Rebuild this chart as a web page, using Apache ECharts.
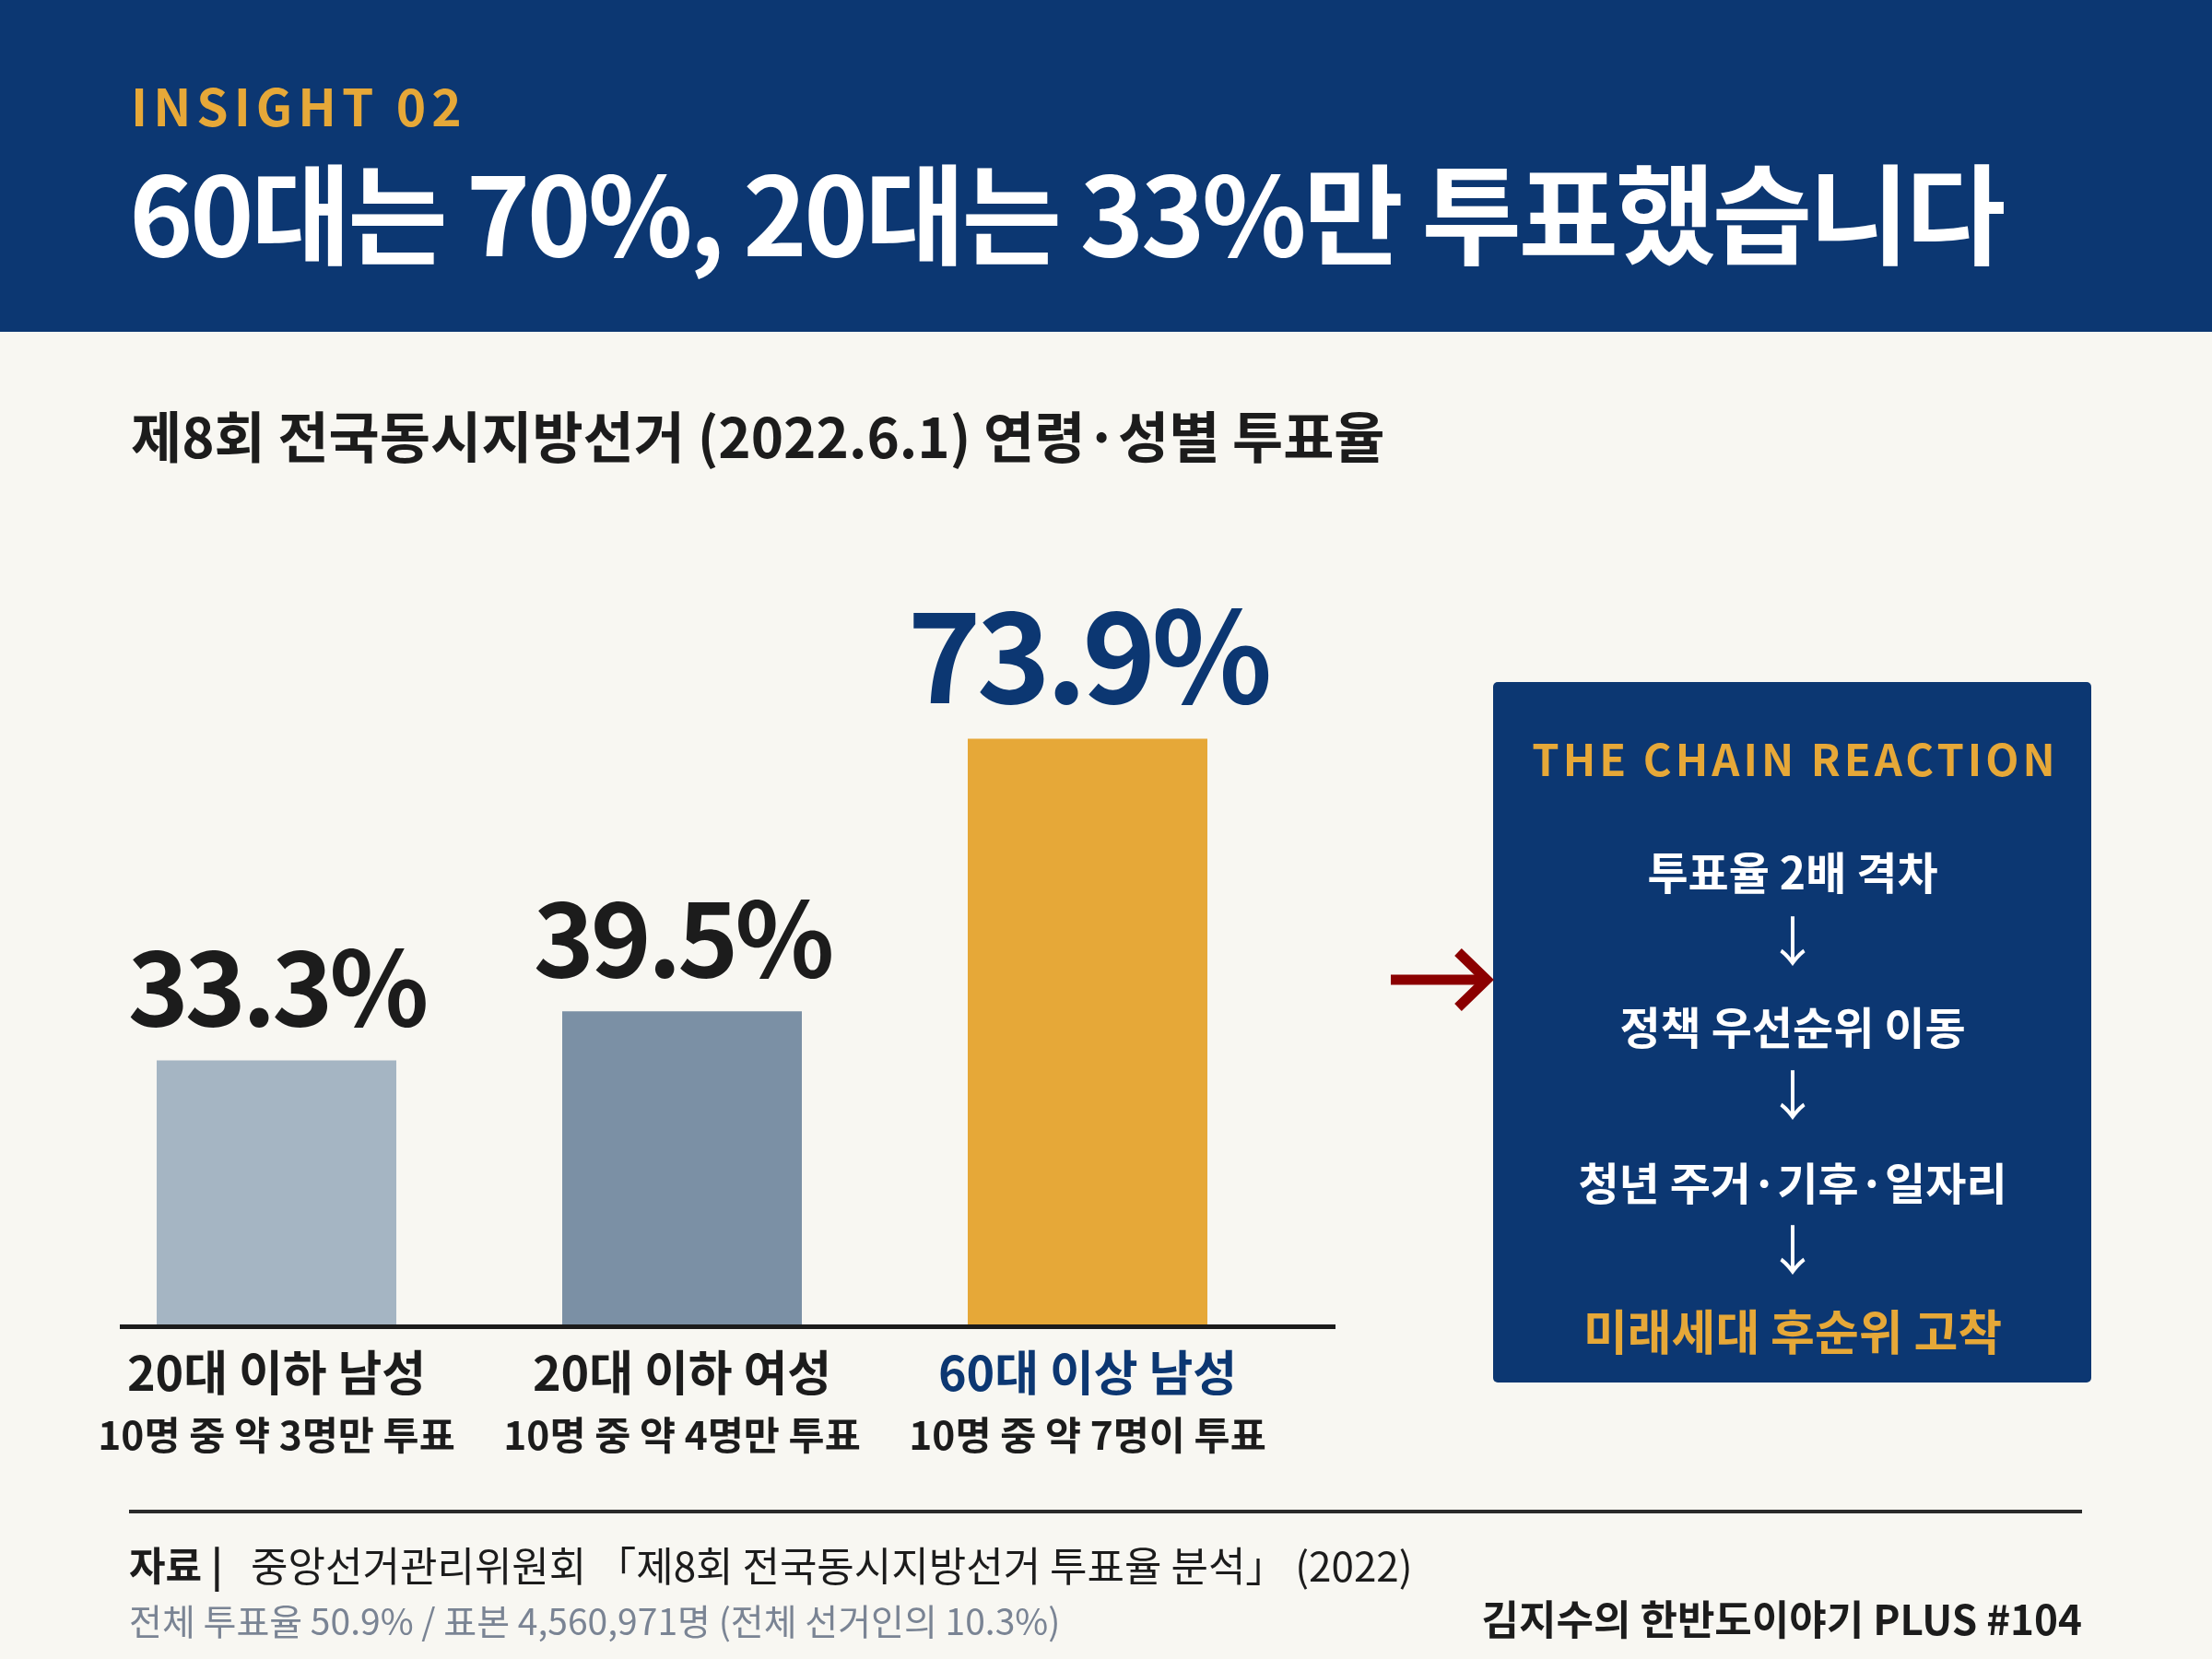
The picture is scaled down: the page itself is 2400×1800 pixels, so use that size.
<!DOCTYPE html>
<html><head><meta charset="utf-8">
<script src="https://cdn.jsdelivr.net/npm/echarts@6/dist/echarts.min.js"></script>
<style>html,body{margin:0;padding:0;background:#F8F7F2;}#c{width:2400px;height:1800px;}</style>
</head><body><div id="c"></div>
<script>
// ---- data ----
const categories = ['20대 이하 남성', '20대 이하 여성', '60대 이상 남성'];
const subLabels = ['10명 중 약 3명만 투표', '10명 중 약 4명만 투표', '10명 중 약 7명이 투표'];
const turnout = [33.3, 39.5, 73.9];
const chainSteps = ['투표율 2배 격차', '정책 우선순위 이동', '청년 주거·기후·일자리', '미래세대 후순위 고착'];
const kicker = 'INSIGHT 02';
const headline = '60대는 70%, 20대는 33%만 투표했습니다';
const subtitle = '제8회 전국동시지방선거 (2022.6.1) 연령·성별 투표율';
const boxTitle = 'THE CHAIN REACTION';
const sourceLabel = '자료 |';
const sourceText = '중앙선거관리위원회 「제8회 전국동시지방선거 투표율 분석」 (2022)';
const noteText = '전체 투표율 50.9% / 표본 4,560,971명 (전체 선거인의 10.3%)';
const brandText = '김지수의 한반도이야기 PLUS #104';

// ---- styles ----
const FONT = '"Noto Sans CJK KR", "Noto Sans", sans-serif';
const NAVY = '#0C3772';
const GOLD = '#E6A838';
const DARK = '#1C1C1C';
const barColors = ['#A5B5C3', '#7B90A5', GOLD];

// letter spacing (canvas native letterSpacing) for selected texts
const SPACING = {};
SPACING[kicker] = '6px';
SPACING[boxTitle] = '4px';
SPACING[headline] = '-3.5px';
turnout.forEach(function (v, i) { SPACING[v + '%'] = i === 2 ? '-5px' : '-4px'; });
(function () {
  const P = CanvasRenderingContext2D.prototype;
  if (!('letterSpacing' in P)) return;
  const orig = P.fillText;
  P.fillText = function (t, x, y, m) {
    const s = SPACING[t] || '0px';
    if (this.letterSpacing !== s) {
      this.letterSpacing = s;
      const f = this.font; this.font = 'bold 10px sans-serif'; this.font = f;
    }
    return m === undefined ? orig.call(this, t, x, y) : orig.call(this, t, x, y, m);
  };
})();

function txt(text, x, y, font, fill, align) {
  return { type: 'text', x: x, y: y, silent: true,
    style: { text: text, font: font, fill: fill, textAlign: align || 'left', textVerticalAlign: 'middle' } };
}

const chainY = [947, 1115, 1284, 1445];
const arrowY = [1021, 1188, 1356];
const boxCx = 1945;

const graphics = [
  { type: 'rect', silent: true, z: -1, shape: { x: 0, y: 0, width: 2400, height: 360 }, style: { fill: NAVY } },
  txt(kicker, 142, 116, 'bold 55px ' + FONT, GOLD),
  txt(headline, 140, 233, 'bold 118px ' + FONT, '#FFFFFF'),
  txt(subtitle, 142, 474, 'bold 60px ' + FONT, DARK),
  // baseline rule under the bars
  { type: 'rect', silent: true, shape: { x: 130, y: 1437, width: 1319, height: 5 }, style: { fill: DARK } },
  // chain box
  { type: 'rect', silent: true, shape: { x: 1620, y: 740, width: 649, height: 760, r: 5 }, style: { fill: NAVY } },
  txt(boxTitle, boxCx + 3, 824, 'bold 47px ' + FONT, GOLD, 'center'),
  // red pointer arrow
  { type: 'line', silent: true, shape: { x1: 1509, y1: 1063, x2: 1610, y2: 1063 }, style: { stroke: '#8B0000', lineWidth: 11 } },
  { type: 'polyline', silent: true, shape: { points: [[1582, 1033], [1613, 1063], [1582, 1093]] }, style: { stroke: '#8B0000', lineWidth: 11, fill: null, lineJoin: 'miter' } },
  // footer
  { type: 'rect', silent: true, shape: { x: 140, y: 1638, width: 2119, height: 4 }, style: { fill: '#2A2A2A' } },
  txt(sourceLabel, 140, 1699, 'bold 43px ' + FONT, DARK),
  txt(sourceText, 272, 1699, '44px ' + FONT, DARK),
  txt(noteText, 140, 1759, '39px ' + FONT, '#7A8494'),
  txt(brandText, 2259, 1757, 'bold 44px ' + FONT, DARK, 'right')
];
chainSteps.forEach(function (s, i) {
  const last = i === chainSteps.length - 1;
  graphics.push(txt(s, boxCx, chainY[i], 'bold ' + (last ? 52 : 48) + 'px ' + FONT, last ? GOLD : '#FFFFFF', 'center'));
});
arrowY.forEach(function (y) {
  graphics.push(txt('↓', boxCx, y, '58px ' + FONT, '#FFFFFF', 'center'));
});

const chart = echarts.init(document.getElementById('c'), null, { renderer: 'canvas' });
chart.setOption({
  backgroundColor: '#F8F7F2',
  animation: false,
  grid: { left: 80, right: 1000, top: 577, bottom: 363 },
  xAxis: {
    type: 'category',
    data: categories,
    axisLine: { show: false },
    axisTick: { show: false },
    axisLabel: {
      interval: 0,
      margin: 20,
      formatter: function (v, i) {
        return '{' + (i === 2 ? 'hl' : 'main') + '|' + v + '}\n{sub|' + subLabels[i] + '}';
      },
      rich: {
        main: { fontFamily: FONT, fontWeight: 'bold', fontSize: 52, color: DARK, lineHeight: 64 },
        hl: { fontFamily: FONT, fontWeight: 'bold', fontSize: 52, color: NAVY, lineHeight: 64 },
        sub: { fontFamily: FONT, fontWeight: 'bold', fontSize: 42.5, color: DARK, lineHeight: 72 }
      }
    }
  },
  yAxis: { type: 'value', min: 0, max: 100, show: false, splitLine: { show: false } },
  series: [{
    type: 'bar',
    barWidth: 260,
    data: turnout.map(function (v, i) {
      const big = i === 2;
      return {
        value: v,
        itemStyle: { color: barColors[i] },
        label: {
          show: true,
          position: 'top',
          distance: big ? 22 : 24,
          formatter: '{c}%',
          fontFamily: FONT,
          fontWeight: 'bold',
          fontSize: big ? 136 : 112,
          lineHeight: big ? 136 : 112,
          color: big ? NAVY : DARK
        }
      };
    })
  }],
  graphic: graphics
});
</script>
</body></html>
